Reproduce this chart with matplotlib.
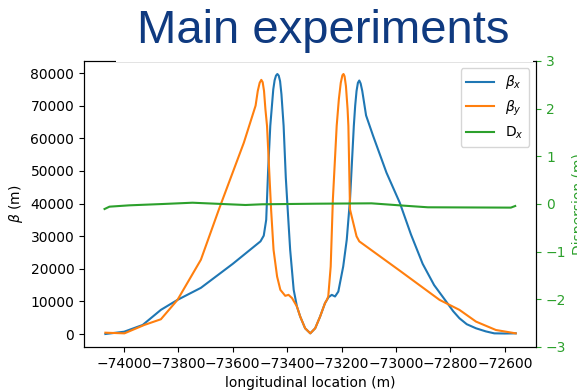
import matplotlib
matplotlib.use("Agg")
import matplotlib.pyplot as plt
from matplotlib.patches import Rectangle

# beta_x (m) vs longitudinal location (m)
bx_s = [-74068, -73999, -73931, -73864, -73803, -73717, -73600, -73498,
        -73486, -73477, -73470, -73462, -73451, -73446, -73441, -73436,
        -73431, -73426, -73421, -73413, -73405, -73398, -73389, -73376,
        -73364, -73352, -73334, -73315, -73297, -73279, -73261, -73248,
        -73236, -73224, -73212, -73194, -73181, -73169, -73155, -73150,
        -73145, -73140, -73135, -73130, -73124, -73110, -73084, -73035,
        -72986, -72945, -72902, -72860, -72816, -72790, -72767, -72740,
        -72706, -72670, -72639, -72600, -72560]
bx_v = [0, 700, 2770, 7400, 10460, 14150, 21500, 28400,
        30150, 35000, 50000, 63800, 75000, 77800, 79200, 79700,
        79200, 77500, 73500, 63800, 48000, 38150, 25850, 13540,
        8400, 5330, 1750, 200, 1750, 5330, 9450, 11290,
        12000, 11500, 13000, 20700, 28900, 41230, 63800, 70000,
        74500, 77000, 77700, 76800, 74500, 67000, 60700, 49450,
        40200, 30500, 21500, 15000, 10000, 7000, 4830, 3000,
        1750, 800, 200, 150, 200]

# beta_y (m)
by_s = [-74068, -73998, -73925, -73864, -73803, -73717, -73651, -73559,
        -73516, -73508, -73501, -73495, -73490, -73485, -73480, -73474,
        -73468, -73459, -73450, -73437, -73425, -73407, -73395, -73382,
        -73364, -73352, -73334, -73315, -73297, -73279, -73261, -73254,
        -73249, -73240, -73232, -73218, -73210, -73203, -73197, -73193,
        -73189, -73184, -73178, -73175, -73169, -73145, -73135, -72986,
        -72840, -72767, -72706, -72633, -72560]
by_v = [400, 200, 2770, 4520, 10460, 22770, 38150, 58680,
        70000, 74500, 77000, 77900, 77200, 74500, 69000, 63800,
        53540, 38150, 25800, 17630, 13540, 11700, 12000, 11000,
        8400, 5330, 1750, 200, 1750, 5330, 9450, 10460,
        11500, 20700, 41230, 63800, 72000, 77000, 79300, 79700,
        79000, 76000, 69000, 63800, 38150, 29940, 28400, 19400,
        10460, 7400, 3800, 1230, 200]

# horizontal dispersion (m)
dx_s = [-74071, -74053, -73980, -73857, -73748, -73638, -73553, -73492,
        -73297, -73090, -73041, -72968, -72883, -72578, -72562]
dx_v = [-0.105, -0.056, -0.028, 0.0, 0.027, 0.0, -0.021, -0.006,
        0.006, 0.014, -0.006, -0.036, -0.069, -0.076, -0.042]

fig = plt.figure(figsize=(5.77, 3.91), dpi=100)
ax = fig.add_axes([84 / 577, 44 / 391, (536.3 - 84) / 577, (347 - 61) / 391])
ax2 = ax.twinx()

l1, = ax.plot(bx_s, bx_v, color="tab:blue", label=r"$\beta_x$")
l2, = ax.plot(by_s, by_v, color="tab:orange", label=r"$\beta_y$")
l3, = ax2.plot(dx_s, dx_v, color="tab:green", label=r"D$_x$")

ax.set_xticks([-74000, -73800, -73600, -73400, -73200, -73000, -72800, -72600])
ax.set_xlabel("longitudinal location (m)")
ax.set_ylabel(r"$\beta$ (m)")

ax2.set_ylim(-3, 3)
ax2.set_yticks([-3, -2, -1, 0, 1, 2, 3])
ax2.tick_params(axis="y", colors="tab:green")
ax2.set_ylabel("Dispersion (m)", color="tab:green")

ax2.legend(handles=[l1, l2, l3], loc="upper right")

# slide title box sits over the top of the chart
fig.add_artist(Rectangle((116 / 577, (391 - 61.8) / 391), (533 - 116) / 577, 61.8 / 391,
                         transform=fig.transFigure, facecolor="white",
                         edgecolor="none", zorder=5))
fig.text(137 / 577, (391 - 43) / 391, "Main experiments", fontsize=34,
         family="Liberation Sans", color="#0F3A80", ha="left", va="baseline",
         zorder=6)

fig.savefig("out.png", dpi=100)
